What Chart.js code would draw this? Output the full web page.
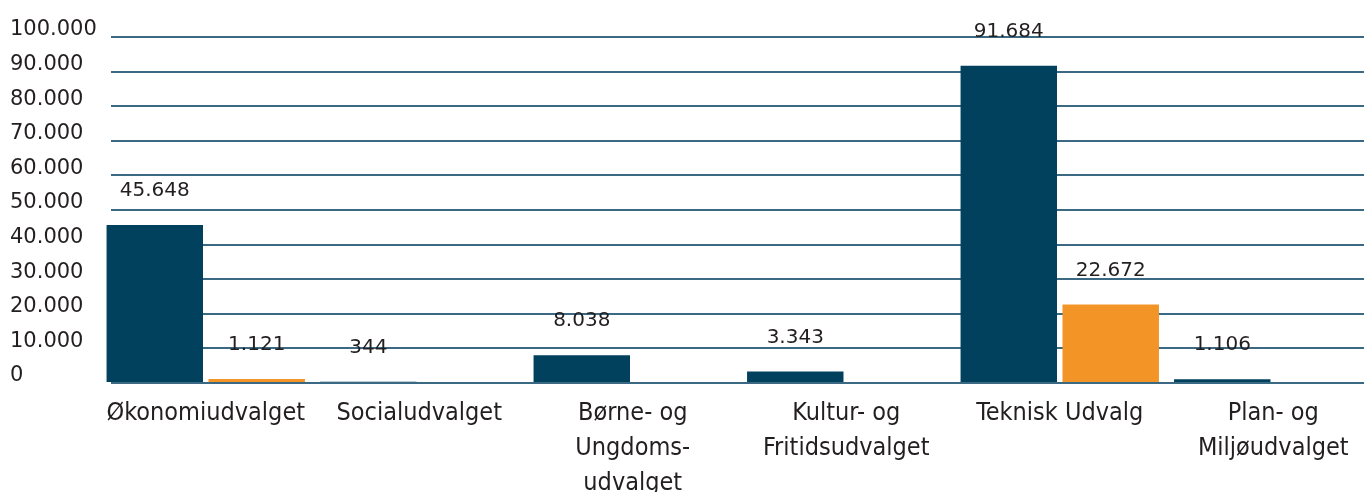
<!DOCTYPE html>
<html>
<head>
<meta charset="utf-8">
<script src="https://cdn.jsdelivr.net/npm/chart.js@4/dist/chart.umd.min.js"></script>
<style>
  html, body { margin: 0; padding: 0; background: #ffffff; overflow: hidden; }
  #wrap { position: relative; width: 1380px; height: 492px; }
</style>
</head>
<body>
<div id="wrap"><canvas id="c"></canvas></div>
<script>
const categories = [
  "Økonomiudvalget",
  "Socialudvalget",
  ["Børne- og", "Ungdoms-", "udvalget"],
  ["Kultur- og", "Fritidsudvalget"],
  "Teknisk Udvalg",
  ["Plan- og", "Miljøudvalget"]
];
const seriesDark = [45648, 344, 8038, 3343, 91684, 1106];
const seriesOrange = [1121, 0, 0, 0, 22672, 0];
const yTicks = [0, 10000, 20000, 30000, 40000, 50000, 60000, 70000, 80000, 90000, 100000];

const fmt = v => v.toLocaleString('da-DK');

const valueLabels = {
  id: 'valueLabels',
  afterDatasetsDraw(chart) {
    const ctx = chart.ctx;
    ctx.save();
    ctx.font = '20px "DejaVu Sans"';
    ctx.fillStyle = '#231f20';
    ctx.textAlign = 'center';
    ctx.textBaseline = 'middle';
    chart.data.datasets.forEach((ds, di) => {
      const meta = chart.getDatasetMeta(di);
      meta.data.forEach((bar, i) => {
        const v = ds.data[i];
        if (!v) return;
        ctx.fillText(fmt(v), bar.x, bar.y - 34);
      });
    });
    ctx.restore();
  }
};

const gridGap = {
  id: 'gridGap',
  beforeDatasetsDraw(chart) {
    const { ctx, chartArea } = chart;
    ctx.save();
    ctx.fillStyle = '#ffffff';
    ctx.fillRect(chartArea.left - 1, chartArea.top - 3, 13, chartArea.bottom - chartArea.top + 6);
    ctx.restore();
  }
};

new Chart(document.getElementById('c'), {
  type: 'bar',
  data: {
    labels: categories,
    datasets: [
      { data: seriesDark, backgroundColor: '#01415e', borderWidth: 0 },
      { data: seriesOrange, backgroundColor: '#f29426', borderWidth: 0 }
    ]
  },
  options: {
    responsive: true,
    maintainAspectRatio: false,
    animation: false,
    events: [],
    layout: { padding: { left: 10, right: 0, top: 37, bottom: 0 } },
    plugins: { legend: { display: false }, tooltip: { enabled: false } },
    datasets: { bar: { categoryPercentage: 0.955, barPercentage: 0.946 } },
    scales: {
      x: {
        grid: { display: false },
        border: { display: false },
        ticks: {
          color: '#231f20',
          font: { family: '"DejaVu Sans Condensed", "DejaVu Sans"', size: 25, lineHeight: '35px' },
          padding: 5,
          maxRotation: 0,
          autoSkip: false
        },
        afterFit(scale) { scale.height = 109; }
      },
      y: {
        min: 0,
        max: 100000,
        afterBuildTicks(scale) { scale.ticks = yTicks.map(v => ({ value: v })); },
        grid: { color: '#3b6882', lineWidth: 2, drawTicks: false },
        border: { display: false },
        ticks: {
          color: '#231f20',
          font: { family: '"DejaVu Sans"', size: 21 },
          crossAlign: 'far',
          labelOffset: -7,
          padding: 0,
          callback: v => fmt(v)
        },
        afterFit(scale) { scale.width = 89; }
      }
    }
  },
  plugins: [gridGap, valueLabels]
});
</script>
</body>
</html>
